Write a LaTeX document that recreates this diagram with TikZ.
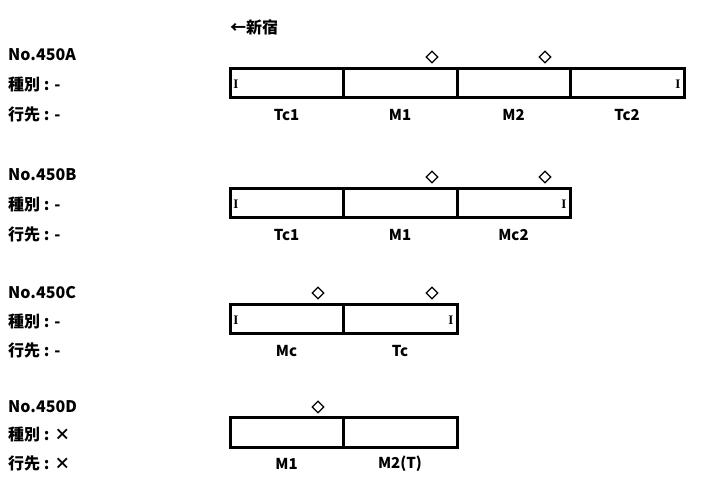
\documentclass[tikz,border=0pt]{standalone}
\usepackage{fontspec}
\usetikzlibrary{shapes.geometric}
\setmainfont{Noto Sans CJK JP}
\newfontfamily\serifI{Liberation Serif}
\begin{document}
\begin{tikzpicture}[x=1pt,y=-1pt,
  car/.style={draw,line width=3pt},
  lbl/.style={font=\bfseries\fontsize{16}{16}\selectfont,anchor=west,inner sep=0},
  clbl/.style={font=\bfseries\fontsize{15}{15}\selectfont,inner sep=0},
  dia/.style={draw,diamond,line width=1.3pt,minimum size=12pt,inner sep=0},
  imark/.style={font=\serifI\bfseries\fontsize{13}{13}\selectfont,inner sep=0}]
\useasboundingbox (0,0) rectangle (710,486);
\node[lbl] (dir) at (230,27) {←新宿};
% Row A
\node[lbl] (nA) at (8,55) {No.450A};
\node[lbl] (sA) at (8,84) {種別 : -};
\node[lbl] (iA) at (8,114) {行先 : -};
\foreach \i/\a/\b/\t in {1/230/343/Tc1,2/343/457/M1,3/457/570/M2,4/570/684/Tc2}{
  \draw[car] (\a,69) rectangle (\b,98);
  \node[clbl] (cA\i) at ({(\a+\b)/2},115) {\t};}
\node[dia] (dA1) at (432,57) {}; \node[dia] (dA2) at (545,57) {};
\node[imark] (mA1) at (236,84) {I}; \node[imark] (mA2) at (678,84) {I};
% Row B
\node[lbl] (nB) at (8,175) {No.450B};
\node[lbl] (sB) at (8,204) {種別 : -};
\node[lbl] (iB) at (8,234) {行先 : -};
\foreach \i/\a/\b/\t in {1/230/343/Tc1,2/343/457/M1,3/457/570/Mc2}{
  \draw[car] (\a,189) rectangle (\b,218);
  \node[clbl] (cB\i) at ({(\a+\b)/2},235) {\t};}
\node[dia] (dB1) at (432,177) {}; \node[dia] (dB2) at (545,177) {};
\node[imark] (mB1) at (236,204) {I}; \node[imark] (mB2) at (564,204) {I};
% Row C
\node[lbl] (nC) at (8,293) {No.450C};
\node[lbl] (sC) at (8,321) {種別 : -};
\node[lbl] (iC) at (8,350) {行先 : -};
\foreach \i/\a/\b/\t in {1/230/343/Mc,2/343/457/Tc}{
  \draw[car] (\a,305) rectangle (\b,334);
  \node[clbl] (cC\i) at ({(\a+\b)/2},351) {\t};}
\node[dia] (dC1) at (318,293) {}; \node[dia] (dC2) at (432,293) {};
\node[imark] (mC1) at (236,320) {I}; \node[imark] (mC2) at (451,320) {I};
% Row D
\node[lbl] (nD) at (8,407) {No.450D};
\node[lbl] (sD) at (8,434) {種別 : ×};
\node[lbl] (iD) at (8,463) {行先 : ×};
\foreach \i/\a/\b/\t in {1/230/343/M1,2/343/457/M2(T)}{
  \draw[car] (\a,418) rectangle (\b,447);
  \node[clbl] (cD\i) at ({(\a+\b)/2},464) {\t};}
\node[dia] (dD1) at (318,407) {};
\end{tikzpicture}
\end{document}
